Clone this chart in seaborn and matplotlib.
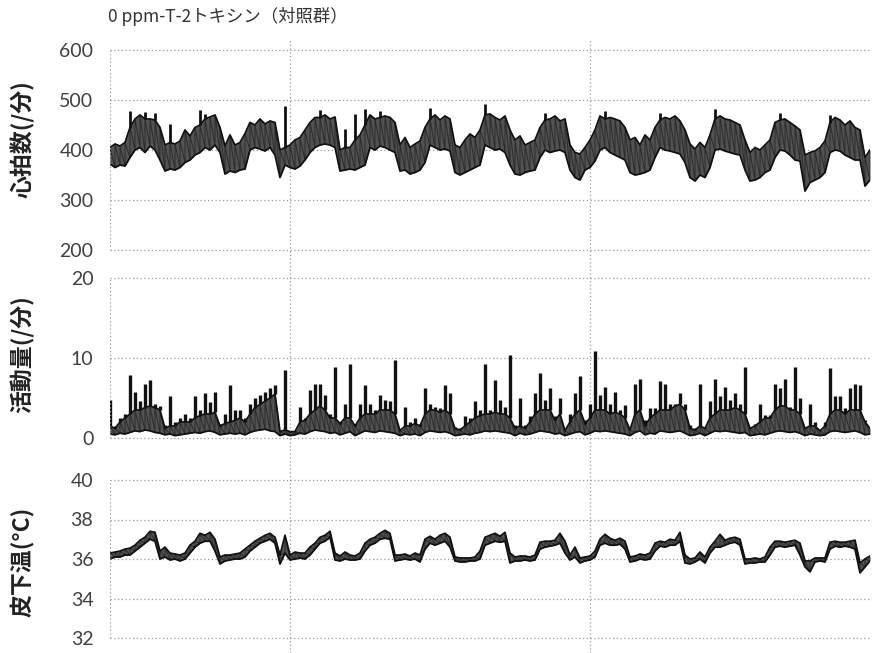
import numpy as np
import pandas as pd
import matplotlib
matplotlib.use("Agg")
import matplotlib.pyplot as plt
import seaborn as sns

TITLE = "0 ppm-T-2トキシン（対照群）"
HOURS_PER_SAMPLE = 2
DAY_MARKS = [72, 192]  # hours since start of recording

# heart rate (beats/min): floor, top of the dense band, and brief maximum
HR_LO = [372, 365, 370, 368, 385, 400, 405, 395, 408, 400,
         380, 358, 362, 360, 365, 375, 380, 390, 395, 405,
         400, 410, 395, 352, 358, 355, 360, 362, 400, 405,
         402, 398, 405, 390, 345, 370, 365, 362, 368, 380,
         395, 405, 410, 412, 410, 405, 358, 360, 362, 360,
         365, 370, 405, 400, 408, 405, 400, 395, 358, 360,
         352, 355, 360, 375, 410, 405, 400, 402, 398, 355,
         350, 355, 360, 365, 370, 410, 405, 400, 402, 395,
         370, 352, 350, 355, 358, 360, 385, 400, 395, 398,
         400, 395, 360, 345, 340, 360, 365, 378, 400, 405,
         395, 390, 385, 380, 355, 350, 352, 355, 360, 385,
         405, 400, 398, 395, 392, 375, 345, 338, 350, 345,
         365, 400, 402, 398, 395, 392, 390, 360, 338, 340,
         345, 355, 360, 385, 400, 398, 390, 380, 378, 318,
         335, 340, 345, 355, 395, 400, 398, 390, 385, 380,
         380, 328, 340]
HR_BODY = [405, 412, 408, 415, 445, 462, 470, 462, 462, 460,
           445, 410, 415, 412, 418, 440, 428, 445, 450, 462,
           466, 470, 445, 408, 430, 410, 415, 433, 455, 450,
           462, 452, 458, 455, 400, 405, 410, 420, 425, 440,
           455, 465, 465, 470, 462, 466, 400, 405, 405, 420,
           430, 450, 470, 462, 465, 468, 465, 455, 410, 425,
           405, 412, 418, 445, 462, 470, 460, 468, 462, 410,
           405, 420, 432, 425, 440, 470, 472, 465, 460, 468,
           440, 420, 428, 410, 415, 420, 445, 460, 462, 468,
           458, 462, 410, 395, 392, 405, 420, 440, 468, 462,
           465, 462, 458, 445, 420, 425, 410, 430, 420, 445,
           460, 465, 462, 468, 458, 440, 412, 402, 415, 405,
           430, 462, 468, 462, 460, 455, 450, 420, 395, 405,
           400, 410, 420, 455, 460, 462, 455, 448, 440, 390,
           395, 398, 405, 418, 455, 465, 460, 450, 458, 445,
           440, 385, 400]
HR_PEAK = [405, 412, 408, 415, 478, 462, 470, 476, 462, 474,
           445, 410, 452, 412, 418, 440, 428, 445, 480, 472,
           466, 470, 445, 408, 430, 410, 415, 433, 455, 450,
           462, 452, 458, 455, 400, 488, 410, 420, 425, 440,
           455, 465, 480, 470, 462, 466, 400, 442, 405, 472,
           430, 482, 470, 462, 478, 468, 465, 455, 410, 425,
           405, 412, 418, 445, 485, 470, 460, 468, 462, 410,
           405, 420, 432, 425, 440, 492, 472, 465, 460, 468,
           440, 420, 428, 410, 415, 420, 445, 475, 462, 468,
           458, 462, 410, 395, 392, 405, 420, 440, 468, 478,
           465, 462, 458, 445, 420, 425, 410, 430, 420, 445,
           475, 465, 462, 468, 458, 440, 412, 402, 415, 405,
           430, 482, 468, 462, 460, 455, 450, 420, 395, 405,
           400, 410, 420, 455, 475, 462, 455, 448, 440, 390,
           395, 398, 405, 418, 470, 465, 460, 450, 458, 445,
           440, 385, 400]

# activity (counts/min): floor, top of the dense band, and burst maximum
ACT_LO = [0.5, 0.4, 0.6, 0.5, 0.7, 0.9, 0.8, 1.0, 0.9, 0.7,
          0.6, 0.4, 0.5, 0.3, 0.4, 0.5, 0.6, 0.7, 0.6, 0.8,
          0.9, 0.7, 0.4, 0.5, 0.6, 0.5, 0.6, 0.4, 0.7, 0.9,
          1.0, 1.1, 0.9, 0.8, 0.3, 0.5, 0.3, 0.4, 0.6, 0.5,
          0.8, 1.0, 0.9, 0.8, 0.6, 0.7, 0.4, 0.6, 0.8, 0.3,
          0.6, 0.9, 0.8, 0.7, 0.9, 0.8, 0.7, 0.6, 0.3, 0.5,
          0.4, 0.5, 0.3, 0.7, 0.9, 0.8, 0.7, 0.8, 0.6, 0.3,
          0.4, 0.5, 0.4, 0.6, 0.7, 0.9, 0.8, 0.9, 0.8, 0.7,
          0.6, 0.3, 0.6, 0.4, 0.5, 0.7, 0.9, 0.8, 0.7, 0.5,
          0.6, 0.3, 0.5, 0.7, 0.8, 0.4, 0.6, 0.9, 0.8, 0.9,
          0.8, 0.7, 0.6, 0.5, 0.3, 0.7, 0.9, 0.4, 0.6, 0.5,
          0.9, 0.8, 0.7, 0.8, 0.9, 0.6, 0.3, 0.4, 0.6, 0.3,
          0.6, 0.9, 0.8, 0.9, 0.8, 0.7, 0.6, 0.7, 0.3, 0.4,
          0.5, 0.4, 0.6, 0.8, 0.9, 0.8, 0.7, 0.8, 0.6, 0.3,
          0.5, 0.4, 0.3, 0.4, 0.8, 0.9, 0.8, 0.7, 0.8, 0.9,
          0.7, 0.4, 0.5]
ACT_BODY = [1.5, 1.2, 2.0, 2.5, 3.0, 3.5, 3.5, 3.8, 4.0, 3.8,
            3.5, 1.2, 1.5, 1.5, 2.0, 2.0, 2.0, 2.5, 2.8, 3.0,
            3.0, 3.2, 1.5, 1.8, 2.0, 2.2, 2.5, 2.0, 3.0, 3.8,
            4.2, 4.6, 5.0, 5.5, 0.8, 1.0, 0.8, 0.8, 2.0, 2.2,
            3.0, 3.5, 4.0, 3.5, 2.5, 2.5, 1.8, 2.5, 2.5, 1.5,
            2.5, 3.0, 3.0, 3.0, 3.5, 3.5, 3.5, 3.0, 0.9, 1.5,
            1.5, 1.8, 1.5, 3.0, 3.5, 3.5, 3.2, 3.5, 3.0, 1.2,
            1.0, 1.5, 2.0, 2.5, 2.8, 3.0, 3.0, 3.2, 3.0, 3.0,
            2.5, 1.2, 1.5, 1.2, 2.0, 3.0, 3.5, 3.5, 3.5, 2.2,
            3.0, 0.9, 2.0, 3.0, 3.5, 1.8, 2.5, 3.5, 3.5, 3.5,
            3.0, 3.2, 3.0, 2.5, 1.0, 3.0, 3.5, 1.5, 2.5, 3.0,
            3.5, 3.5, 3.5, 4.0, 4.2, 3.5, 1.2, 1.0, 1.5, 1.2,
            2.5, 3.0, 3.5, 3.5, 3.5, 3.8, 3.5, 3.0, 1.2, 1.5,
            2.0, 2.5, 2.5, 3.5, 4.0, 4.0, 3.5, 3.5, 3.0, 1.2,
            1.5, 1.5, 0.9, 1.5, 3.0, 3.5, 3.5, 3.0, 3.5, 3.5,
            3.5, 2.0, 1.2]
ACT_PEAK = [4.8, 1.5, 2.5, 3.0, 7.9, 5.8, 4.6, 6.8, 7.2, 4.3,
            4.0, 1.6, 5.2, 2.0, 2.5, 3.0, 2.5, 5.2, 3.5, 5.6,
            4.5, 5.8, 1.8, 3.0, 6.6, 3.5, 3.5, 2.5, 4.3, 5.0,
            5.4, 5.8, 6.2, 6.6, 0.8, 8.5, 0.9, 0.9, 3.9, 2.5,
            6.0, 6.8, 6.8, 5.4, 3.0, 8.9, 2.0, 4.3, 9.3, 1.8,
            4.3, 6.6, 4.3, 3.5, 5.4, 4.8, 4.6, 9.7, 0.9, 3.9,
            2.0, 2.5, 1.8, 6.2, 4.3, 3.9, 3.7, 6.6, 5.6, 1.4,
            1.2, 2.7, 2.5, 4.6, 3.5, 9.3, 3.5, 7.2, 4.8, 3.9,
            10.4, 1.6, 5.0, 1.6, 2.7, 5.6, 8.1, 4.8, 6.2, 2.7,
            5.0, 0.9, 3.0, 5.6, 7.7, 2.2, 4.3, 10.9, 5.4, 6.4,
            4.3, 5.8, 3.5, 4.1, 1.0, 6.8, 7.4, 2.2, 3.8, 3.8,
            7.1, 6.8, 4.3, 4.3, 5.6, 4.3, 1.6, 1.2, 6.8, 1.4,
            4.6, 7.4, 5.2, 6.4, 4.8, 5.6, 4.3, 8.9, 1.4, 1.8,
            4.3, 2.9, 2.9, 6.8, 6.2, 7.4, 3.9, 8.9, 5.0, 1.4,
            4.3, 2.0, 0.9, 2.0, 8.7, 5.2, 5.2, 3.8, 6.2, 6.8,
            6.6, 2.2, 1.4]

# subcutaneous temperature (°C)
TEMP_LO = [36.0, 36.1, 36.1, 36.2, 36.2, 36.4, 36.6, 36.8, 37.0, 36.9,
           36.0, 36.1, 35.95, 36.0, 35.9, 36.0, 36.3, 36.6, 36.8, 36.9,
           36.9, 36.4, 35.75, 35.9, 35.95, 36.0, 36.0, 36.1, 36.4, 36.6,
           36.8, 36.9, 37.0, 36.8, 35.75, 36.3, 35.95, 36.0, 36.05, 36.0,
           36.2, 36.5, 36.8, 36.9, 37.1, 35.95, 35.9, 36.0, 35.95, 35.95,
           36.0, 36.4, 36.7, 36.8, 37.0, 37.05, 37.0, 35.9, 35.95, 36.0,
           35.95, 36.0, 35.85, 36.5, 36.8, 36.7, 36.8, 36.9, 36.6, 35.9,
           35.85, 35.85, 35.9, 35.9, 36.0, 36.7, 36.8, 36.9, 36.85, 36.9,
           35.8, 35.9, 35.9, 35.95, 35.9, 35.95, 36.5, 36.6, 36.65, 36.7,
           36.8, 36.3, 35.95, 36.1, 35.8, 35.9, 35.95, 36.1, 36.7, 36.8,
           36.7, 36.7, 36.75, 36.5, 35.85, 35.9, 36.0, 35.95, 36.0, 36.4,
           36.65, 36.6, 36.7, 36.7, 36.9, 35.8, 35.75, 35.85, 36.0, 35.8,
           36.3, 36.6, 36.6, 36.7, 36.8, 36.85, 36.7, 35.75, 35.8, 35.8,
           35.85, 35.85, 36.2, 36.6, 36.65, 36.6, 36.65, 36.7, 36.2, 35.6,
           35.35, 35.85, 35.9, 35.85, 36.5, 36.65, 36.6, 36.65, 36.6, 36.5,
           35.3, 35.6, 35.9]
TEMP_HI = [36.3, 36.35, 36.4, 36.5, 36.55, 36.7, 36.95, 37.1, 37.4, 37.35,
           36.4, 36.6, 36.3, 36.25, 36.2, 36.3, 36.7, 36.9, 37.3, 37.2,
           37.35, 37.0, 36.1, 36.2, 36.2, 36.25, 36.3, 36.5, 36.7, 36.9,
           37.05, 37.2, 37.3, 37.1, 36.2, 37.2, 36.2, 36.35, 36.3, 36.3,
           36.6, 36.8, 37.1, 37.2, 37.4, 36.3, 36.15, 36.35, 36.2, 36.15,
           36.3, 36.8, 37.0, 37.1, 37.3, 37.45, 37.3, 36.2, 36.2, 36.25,
           36.15, 36.3, 36.2, 37.0, 37.15, 37.0, 37.2, 37.3, 37.1, 36.1,
           36.05, 36.05, 36.05, 36.1, 36.4, 37.1, 37.2, 37.3, 37.15, 37.35,
           36.3, 36.1, 36.15, 36.15, 36.1, 36.2, 36.85, 36.9, 36.9, 36.95,
           37.3, 36.9, 36.2, 36.6, 36.05, 36.1, 36.15, 36.4, 37.0, 37.25,
           37.05, 36.95, 37.05, 36.9, 36.1, 36.15, 36.25, 36.2, 36.3, 36.8,
           36.9, 36.85, 37.0, 36.95, 37.35, 36.2, 36.0, 36.05, 36.35, 36.1,
           36.6, 36.9, 37.25, 36.95, 37.05, 37.1, 37.0, 36.0, 36.0, 36.05,
           36.0, 36.1, 36.6, 36.9, 36.9, 36.85, 36.9, 36.95, 36.8, 35.9,
           35.9, 36.05, 36.05, 36.05, 36.85, 36.9, 36.85, 36.85, 36.9, 36.95,
           35.8, 36.0, 36.15]

HR_TICKS = [200, 300, 400, 500, 600]
ACT_TICKS = [0, 10, 20]
TEMP_TICKS = [32, 34, 36, 38, 40]

sns.set_theme(style="white")
plt.rcParams["font.family"] = ["Lato", "Noto Sans CJK JP", "DejaVu Sans"]

W, H = 872, 653
fig = plt.figure(figsize=(W / 100, H / 100), dpi=100)


def box(left, top, right, bottom):
    """Axes rectangle from pixel edges measured from the top-left corner."""
    return [left / W, 1 - bottom / H, (right - left) / W, (bottom - top) / H]


t = np.arange(len(HR_LO)) * HOURS_PER_SAMPLE
x_max = t[-1]


def edges(lo, hi):
    """Long table of the lower and upper trace of each sample."""
    return pd.DataFrame({
        "時間": np.concatenate([t, t]),
        "値": np.concatenate([lo, hi]),
        "縁": ["下"] * len(t) + ["上"] * len(t),
    })


def sweep(lo, hi):
    """Trace that runs from the low to the high reading of every sample."""
    return pd.DataFrame({
        "時間": np.repeat(t, 2),
        "値": np.column_stack([lo, hi]).ravel(),
    })


GRID = dict(color="#9a9a9a", lw=0.9, ls=(0, (1, 2)))
FILL, HATCH, EDGE = "#525252", "#2b2b2b", "#111111"

# vertical day marks running through all three panels
bg = fig.add_axes(box(110, 38, 870, 653))
bg.set_xlim(0, x_max)
bg.set_ylim(0, 1)
bg.axis("off")
for d in DAY_MARKS:
    bg.axvline(d, **GRID)

panels = [
    (HR_LO, HR_BODY, HR_PEAK, 2.0, box(110, 50, 870, 250), HR_TICKS, "心拍数(/分)", 0.555),
    (ACT_LO, ACT_BODY, ACT_PEAK, 2.4, box(110, 278, 870, 438), ACT_TICKS, "活動量(/分)", 0.525),
    (TEMP_LO, TEMP_HI, None, 0, box(110, 480, 870, 638), TEMP_TICKS, "皮下温(°C)", 0.48),
]

for lo, hi, peak, peak_lw, rect, ticks, label, label_y in panels:
    ax = fig.add_axes(rect)
    ax.set_facecolor("none")
    ax.fill_between(t, lo, hi, color=FILL, lw=0)
    sns.lineplot(data=sweep(lo, hi), x="時間", y="値", ax=ax, estimator=None,
                 sort=False, color=HATCH, lw=0.7)
    sns.lineplot(data=edges(lo, hi), x="時間", y="値", units="縁", ax=ax,
                 estimator=None, sort=False, color=EDGE, lw=1.3)
    if peak is not None:
        # short bursts rising above the dense band
        ax.vlines(t, hi, peak, color=EDGE, lw=peak_lw)
    ax.set_xlim(0, x_max)
    ax.set_ylim(ticks[0], ticks[-1])
    ax.set_yticks(ticks)
    ax.set_xticks([])
    ax.set_xlabel("")
    for s in ax.spines.values():
        s.set_visible(False)
    ax.yaxis.grid(True, **GRID)
    for gl in ax.get_ygridlines():
        gl.set_clip_on(False)
    ax.axvline(0, **GRID)
    ax.tick_params(axis="y", length=0, pad=12, labelsize=14, labelcolor="#404040")
    ax.set_ylabel(label, fontsize=16.5, fontweight="bold", color="#222222",
                  family=["Noto Sans CJK JP", "DejaVu Sans"])
    ax.yaxis.set_label_coords(-0.099, label_y)

fig.text(108 / W, 1 - 17 / H, TITLE, ha="left", va="center", fontsize=12.5,
         color="#333333", family=["Noto Sans CJK JP", "DejaVu Sans"])

fig.savefig("out.png", dpi=100)
